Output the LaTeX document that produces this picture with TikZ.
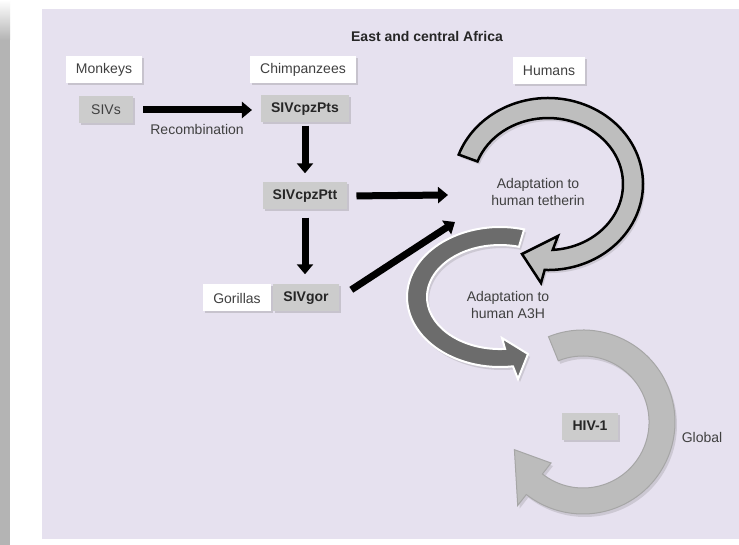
\documentclass[tikz,border=0pt]{standalone}
\usepackage{fontspec}
\setmainfont{Liberation Sans}
\usetikzlibrary{arrows.meta}
\usetikzlibrary{shadows}
\definecolor{panel}{RGB}{230,225,239}
\definecolor{stripgray}{RGB}{180,180,180}
\definecolor{boxgray}{RGB}{204,204,204}
\definecolor{textgray}{RGB}{64,64,64}
\definecolor{tethergray}{RGB}{190,190,190}
\definecolor{apogray}{RGB}{108,108,108}
\definecolor{globalgray}{RGB}{188,188,188}
\newcommand{\figfont}{\fontsize{14}{17}\selectfont}
\tikzstyle{hostbox}=[fill=white,text=textgray,minimum height=27pt,inner xsep=10pt,
  drop shadow={shadow xshift=2pt,shadow yshift=-2pt,opacity=0.3}]
\tikzstyle{virusbox}=[fill=boxgray,text=black!85,minimum height=27pt,inner xsep=10pt,
  font=\figfont\bfseries,drop shadow={shadow xshift=2pt,shadow yshift=-2pt,opacity=0.3}]
\tikzstyle{fatarrow}=[line width=7pt,-{Triangle[length=10pt,width=16pt]}]
\tikzstyle{arcshadow}=[drop shadow={shadow xshift=2pt,shadow yshift=-3pt,opacity=0.25}]

\begin{document}
\begin{tikzpicture}[x=1pt,y=-1pt,font=\figfont]
  % Page and panel.
  \useasboundingbox[fill=white] (0,0) rectangle (739,545);
  \fill[stripgray] (0,40) rectangle (10,545);
  \shade[top color=white,bottom color=stripgray] (0,0) rectangle (10,40);
  \fill[panel] (42,9) rectangle (739,539);

  % Title.
  \node[font=\figfont\bfseries,text=black!85] (title) at (427,36) {East and central Africa};

  % Hosts.
  \node[hostbox] (monkeys) at (104,70) {Monkeys};
  \node[hostbox] (chimps) at (303,70) {Chimpanzees};
  \node[hostbox] (gorillas) at (237,298) {Gorillas};
  \node[hostbox] (humans) at (549,71) {Humans};

  % Viruses.
  \node[virusbox,font=\figfont,text=textgray,minimum width=54pt] (sivs) at (106,110) {SIVs};
  \node[virusbox] (pts) at (305,109) {SIVcpzPts};
  \node[virusbox] (ptt) at (305,196) {SIVcpzPtt};
  \node[virusbox] (sivgor) at (306,298) {SIVgor};
  \node[virusbox] (hiv) at (590,426) {HIV-1};

  % Transmission arrows.
  \coordinate (entry1) at (448,195);
  \coordinate (entry2) at (455,222);
  \draw[fatarrow,shorten <=10pt,shorten >=9pt] (sivs.east) -- (sivs.east -| pts.west)
    node[midway,below=8pt,text=textgray] (recomb) {Recombination};
  \draw[fatarrow,shorten <=3pt,shorten >=9pt] (pts.south) -- (ptt.north);
  \draw[fatarrow,shorten <=9pt] (ptt.east) -- (entry1);
  \draw[fatarrow,shorten <=8pt,shorten >=10pt] (ptt.south) -- (ptt.south |- sivgor.north);
  \draw[fatarrow,shorten <=15pt] (sivgor.east) -- (entry2);

  % Global spread arrow.
  \path[arcshadow,fill=globalgray,draw=black!35,line width=1pt]
    (548.5,336.7) arc[start angle=-112,end angle=128,radius=92]
    -- (517.7,505.5) -- (514.4,449.7) -- (551,463) -- (542.4,474)
    arc[start angle=128,end angle=-112,radius=66] -- cycle;

  % A3H adaptation arrow.
  \path[arcshadow,fill=apogray,draw=white,line width=2pt]
    (524.1,229.4) arc[start angle=-75,end angle=-278,x radius=93,y radius=70]
    -- (518,379) -- (528,354) -- (502,338) -- (505.1,348.9)
    arc[start angle=-274,end angle=-75,x radius=73,y radius=52] -- cycle;

  % Tetherin adaptation arrow.
  \path[arcshadow,fill=tethergray,draw=black,line width=2.5pt,line join=miter]
    (458.7,154.6) arc[start angle=-160,end angle=92,x radius=95,y radius=86]
    -- (541,283) -- (522,254) -- (558,236) -- (552.7,249.9)
    arc[start angle=86.4,end angle=-160,x radius=75,y radius=66] -- cycle;

  % Arrow labels.
  \node[align=center,text=textgray] (tetherin) at (538,192) {Adaptation to\\human tetherin};
  \node[align=center,text=textgray] (a3h) at (508,305) {Adaptation to\\human A3H};
  \node[text=textgray] (global) at (702,437) {Global};
\end{tikzpicture}
\end{document}
